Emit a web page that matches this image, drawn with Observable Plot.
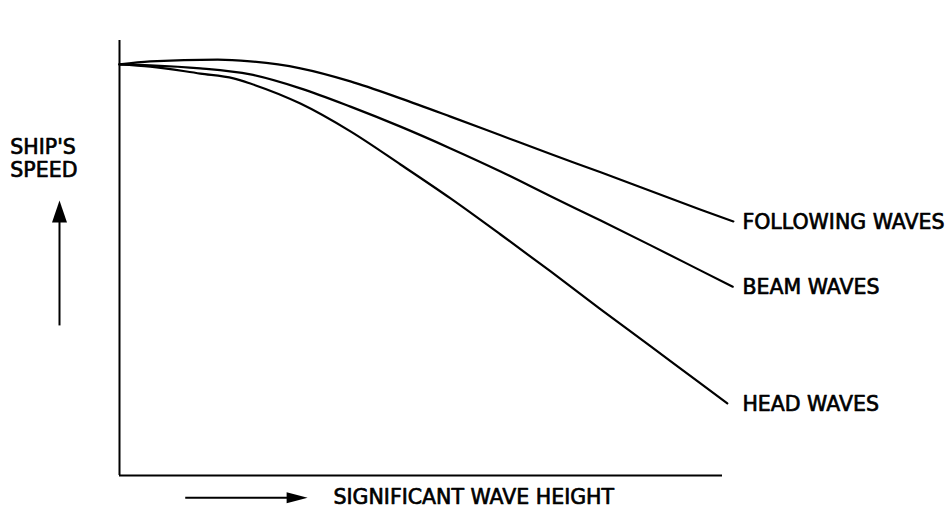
<!DOCTYPE html>
<html>
<head>
<meta charset="utf-8">
<script src="https://cdn.jsdelivr.net/npm/d3@7"></script>
<script src="https://cdn.jsdelivr.net/npm/@observablehq/plot@0.6"></script>
<style>
  html, body { margin: 0; padding: 0; background: #fff; }
  #chart svg { display: block; }
</style>
</head>
<body>
<div id="chart"></div>
<script>
// Wave height (arbitrary units, 0–10) and ship's speed (arbitrary units, 0–10)
const followingX = [0, 0.51, 1.63, 2.17, 3.00, 3.83, 4.66, 5.49, 6.32, 7.15, 7.98, 8.81, 9.64, 10.18];
const followingY = [9.45, 9.52, 9.56, 9.52, 9.36, 9.06, 8.67, 8.25, 7.82, 7.39, 6.97, 6.54, 6.11, 5.84];

const beamX = [0, 0.51, 1.34, 2.17, 3.00, 3.83, 4.66, 5.49, 6.32, 7.15, 7.98, 8.81, 9.64, 10.17];
const beamY = [9.45, 9.43, 9.36, 9.22, 8.90, 8.48, 8.02, 7.52, 6.99, 6.42, 5.86, 5.29, 4.71, 4.34];

const headX = [0, 0.51, 1.34, 1.89, 2.17, 3.00, 3.83, 4.66, 5.49, 6.32, 7.15, 7.98, 8.81, 9.64, 10.08];
const headY = [9.45, 9.40, 9.24, 9.13, 9.01, 8.55, 7.91, 7.15, 6.37, 5.54, 4.69, 3.82, 2.97, 2.11, 1.66];

const seriesNames = ["FOLLOWING WAVES", "BEAM WAVES", "HEAD WAVES"];
const labelX = 10.33;

// Axis annotations (in data units)
const yTitle = "SHIP'S\nSPEED";
const yTitlePos = {x: -1.81, y: 7.30};
const yArrow = {x1: -0.995, y1: 3.45, x2: -0.995, y2: 6.0, tipX: -0.995, tipY: 6.32};
const xTitle = "SIGNIFICANT WAVE HEIGHT";
const xTitlePos = {x: 3.55, y: -0.51};
const xArrow = {x1: 1.09, y1: -0.51, x2: 2.95, y2: -0.51, tipX: 3.12, tipY: -0.51};

const series = [
  {name: seriesNames[0], xs: followingX, ys: followingY},
  {name: seriesNames[1], xs: beamX, ys: beamY},
  {name: seriesNames[2], xs: headX, ys: headY}
];
const points = series.flatMap(s => s.xs.map((x, i) => ({series: s.name, x, y: s.ys[i]})));
const labels = series.map(s => ({name: s.name, x: labelX, y: s.ys[s.ys.length - 1]}));

// Filled elongated arrowheads pointing up, tip at origin
function head(halfWidth, length) {
  return {
    draw(context) {
      context.moveTo(0, 0);
      context.lineTo(-halfWidth, length);
      context.lineTo(halfWidth, length);
      context.closePath();
    }
  };
}

const textStyle = {fontSize: 20.5, fill: "black", stroke: "black", strokeWidth: 0.7};

const chart = Plot.plot({
  width: 950,
  height: 513,
  marginLeft: 119,
  marginRight: 228,
  marginTop: 40,
  marginBottom: 38,
  style: {fontFamily: "DejaVu Sans", fontSize: "20px", background: "#fff", color: "#000"},
  x: {domain: [0, 10], axis: null},
  y: {domain: [0, 10], axis: null},
  marks: [
    Plot.ruleX([0], {stroke: "black", strokeWidth: 2}),
    Plot.ruleY([0], {stroke: "black", strokeWidth: 2}),
    Plot.line(points, {x: "x", y: "y", z: "series", curve: "monotone-x", stroke: "black", strokeWidth: 2.2}),
    Plot.text(labels, {x: "x", y: "y", text: "name", textAnchor: "start", dy: 1, ...textStyle}),
    Plot.text([yTitle], {x: yTitlePos.x, y: yTitlePos.y, text: d => d, textAnchor: "start", lineHeight: 1.15, ...textStyle}),
    Plot.link([yArrow], {x1: "x1", y1: "y1", x2: "x2", y2: "y2", stroke: "black", strokeWidth: 2}),
    Plot.dot([yArrow], {x: "tipX", y: "tipY", symbol: head(7.5, 22), fill: "black", stroke: null}),
    Plot.text([xTitle], {x: xTitlePos.x, y: xTitlePos.y, text: d => d, textAnchor: "start", ...textStyle}),
    Plot.link([xArrow], {x1: "x1", y1: "y1", x2: "x2", y2: "y2", stroke: "black", strokeWidth: 2}),
    Plot.dot([xArrow], {x: "tipX", y: "tipY", symbol: head(5.5, 21), fill: "black", stroke: null, rotate: 90})
  ]
});
document.getElementById("chart").appendChild(chart);
</script>
</body>
</html>
